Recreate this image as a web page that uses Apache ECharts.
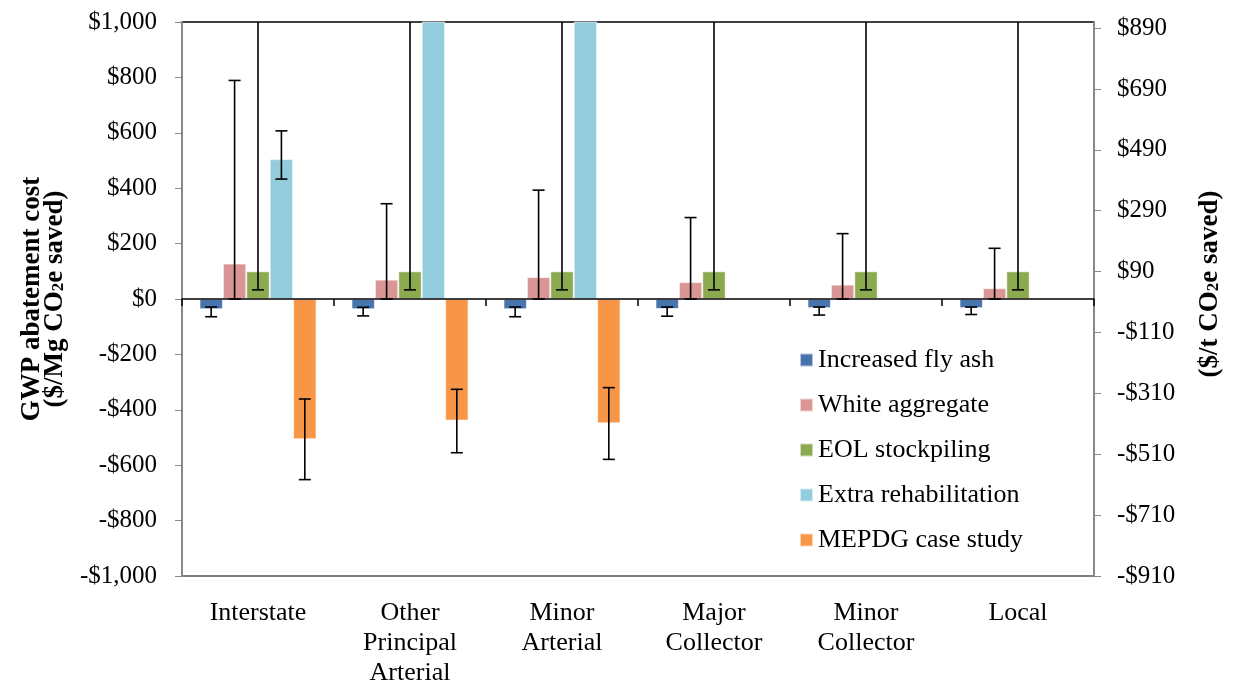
<!DOCTYPE html>
<html>
<head>
<meta charset="utf-8">
<script src="https://cdn.jsdelivr.net/npm/echarts@6/dist/echarts.min.js"></script>
<style>
html,body{margin:0;padding:0;background:#fff;overflow:hidden;}
#chart{width:1234px;height:688px;}
</style>
</head>
<body>
<div id="chart"></div>
<script>
// ---- data ----
const categories = ['Interstate', 'Other\nPrincipal\nArterial', 'Minor\nArterial', 'Major\nCollector', 'Minor\nCollector', 'Local'];
const seriesNames = ['Increased fly ash', 'White aggregate', 'EOL stockpiling', 'Extra rehabilitation', 'MEPDG case study'];

const flyAsh      = [-37, -37, -37, -36, -33, -33];
const flyAshLow   = [-64, -61, -64, -62, -58, -56];
const flyAshHigh  = [-29, -30, -29, -29, -29, -29];

const whiteAgg     = [128, 70, 79, 61, 52, 39];
const whiteAggLow  = [0, 0, 0, 0, 0, 0];
const whiteAggHigh = [789, 344, 393, 294, 236, 183];

const eol     = [100, 100, 100, 100, 100, 100];
const eolLow  = [33, 33, 33, 33, 33, 33];
const eolHigh = [1500, 1500, 1500, 1500, 1500, 1500]; // off scale (clipped)

const extraRehab     = [505, 1500, 1500, null, null, null]; // 2nd & 3rd off scale
const extraRehabLow  = [433, null, null, null, null, null];
const extraRehabHigh = [607, null, null, null, null, null];

const mepdg     = [-506, -439, -449, null, null, null];
const mepdgLow  = [-652, -555, -579, null, null, null];
const mepdgHigh = [-361, -326, -320, null, null, null];

const leftTicks  = {min: -1000, max: 1000, interval: 200};
const rightTicks = {min: -910, max: 910, interval: 200};

// ---- chart ----
const colors = ['#4774AC', '#D99694', '#8BA94F', '#93CDDD', '#F79646'];
const FONT = '"Liberation Serif", "Times New Roman", serif';
const CAT_GAP = 0.23;

function money(v) {
  const a = Math.abs(v).toLocaleString('en-US');
  return (v < 0 ? '-$' : '$') + a;
}

function errSeries(idx, low, high) {
  const data = [];
  low.forEach((lo, i) => {
    if (lo != null && high[i] != null) data.push([i, lo, high[i]]);
  });
  return {
    type: 'custom',
    name: 'err' + idx,
    xAxisIndex: 0,
    yAxisIndex: 0,
    clip: true,
    z: 5,
    encode: {x: 0, y: [1, 2]},
    data: data,
    renderItem: function (params, api) {
      const i = api.value(0);
      const band = api.size([1, 0])[0];
      const bw = band * (1 - CAT_GAP) / 5;
      const c = api.coord([i, 0]);
      const x = c[0] + (idx - 2) * bw;
      const yLo = api.coord([i, api.value(1)])[1];
      const yHi = api.coord([i, api.value(2)])[1];
      const cap = 6;
      const st = {stroke: '#000', lineWidth: 1.6};
      return {
        type: 'group',
        children: [
          {type: 'line', shape: {x1: x, y1: yLo, x2: x, y2: yHi}, style: st},
          {type: 'line', shape: {x1: x - cap, y1: yLo, x2: x + cap, y2: yLo}, style: st},
          {type: 'line', shape: {x1: x - cap, y1: yHi, x2: x + cap, y2: yHi}, style: st}
        ]
      };
    }
  };
}

const barData = [flyAsh, whiteAgg, eol, extraRehab, mepdg];
const series = barData.map((d, k) => ({
  type: 'bar',
  name: seriesNames[k],
  data: d,
  xAxisIndex: 0,
  yAxisIndex: 0,
  barGap: '0%',
  barCategoryGap: (CAT_GAP * 100) + '%',
  itemStyle: {color: colors[k], borderColor: 'rgba(255,255,255,0.6)', borderWidth: 1},
  emphasis: {disabled: true},
  z: 2
}));
series.push(errSeries(0, flyAshLow, flyAshHigh));
series.push(errSeries(1, whiteAggLow, whiteAggHigh));
series.push(errSeries(2, eolLow, eolHigh));
series.push(errSeries(3, extraRehabLow, extraRehabHigh));
series.push(errSeries(4, mepdgLow, mepdgHigh));

function titleStyle(pad) {
  return {
    fontFamily: FONT, fontSize: 27, fontWeight: 'bold', color: '#000', lineHeight: 23,
    padding: pad,
    rich: {
      s: {fontFamily: FONT, fontSize: 17, fontWeight: 'bold', color: '#000', verticalAlign: 'bottom', lineHeight: 15}
    }
  };
}

const option = {
  animation: false,
  backgroundColor: '#fff',
  color: colors,
  grid: {left: 182, right: 140, top: 22, bottom: 106, containLabel: false},
  legend: {
    data: seriesNames,
    orient: 'vertical',
    left: 794, top: 342,
    itemWidth: 13, itemHeight: 13, itemGap: 19,
    icon: 'rect',
    textStyle: {fontFamily: FONT, fontSize: 26, color: '#000', lineHeight: 26}
  },
  xAxis: [
    {
      type: 'category', data: categories, position: 'bottom',
      axisLine: {onZero: true, lineStyle: {color: '#000', width: 1.5}},
      axisTick: {show: true, length: 7, lineStyle: {color: '#000', width: 1.5}},
      axisLabel: {show: false},
      splitLine: {show: false},
      z: 4
    },
    {
      type: 'category', data: categories, position: 'bottom',
      axisLine: {onZero: false, lineStyle: {color: '#555', width: 1.5}},
      axisTick: {show: false},
      axisLabel: {fontFamily: FONT, fontSize: 26, color: '#000', lineHeight: 30, margin: 22, interval: 0},
      splitLine: {show: false}
    },
    {
      type: 'category', data: categories, position: 'top',
      axisLine: {onZero: false, lineStyle: {color: '#000', width: 1.5}},
      axisTick: {show: false},
      axisLabel: {show: false},
      splitLine: {show: false}
    }
  ],
  yAxis: [
    {
      type: 'value', position: 'left',
      min: leftTicks.min, max: leftTicks.max, interval: leftTicks.interval,
      axisLine: {show: true, onZero: false, lineStyle: {color: '#888', width: 2}},
      axisTick: {show: true, length: 7, lineStyle: {color: '#888'}},
      axisLabel: {fontFamily: FONT, fontSize: 25, color: '#000', margin: 25, formatter: money},
      splitLine: {show: false},
      name: 'GWP abatement cost\n($/Mg CO{s|2}e saved)',
      nameLocation: 'middle', nameRotate: 90, nameGap: 103,
      nameTextStyle: titleStyle(0),
      z: 3
    },
    {
      type: 'value', position: 'right',
      min: rightTicks.min, max: rightTicks.max, interval: rightTicks.interval,
      axisLine: {show: true, onZero: false, lineStyle: {color: '#888', width: 2}},
      axisTick: {show: true, length: 7, lineStyle: {color: '#888'}},
      axisLabel: {fontFamily: FONT, fontSize: 25, color: '#000', margin: 23, formatter: money, showMaxLabel: false},
      splitLine: {show: false},
      name: '($/t CO{s|2}e saved)',
      nameLocation: 'middle', nameRotate: 90, nameGap: 105,
      nameTextStyle: titleStyle([0, 0, 0, 30]),
      z: 3
    }
  ],
  series: series
};

const chart = echarts.init(document.getElementById('chart'), null, {renderer: 'canvas'});
chart.setOption(option);
</script>
</body>
</html>
